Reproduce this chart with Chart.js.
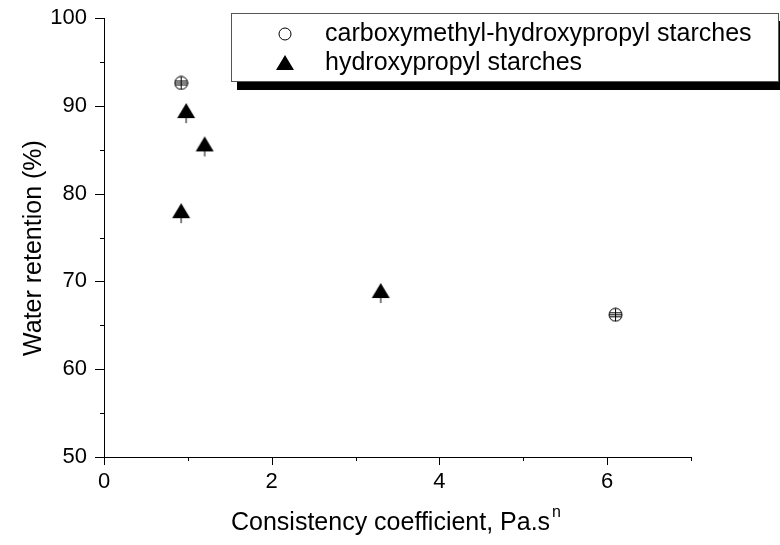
<!DOCTYPE html>
<html><head><meta charset="utf-8">
<script src="https://cdn.jsdelivr.net/npm/chart.js@4"></script>
<style>html,body{margin:0;padding:0;background:#fff}</style>
</head><body><canvas id="c" width="780" height="545"></canvas>
<script>
const seriesNames = ['carboxymethyl-hydroxypropyl starches', 'hydroxypropyl starches'];
const cmhpX = [0.92, 6.10];
const cmhpY = [92.6, 66.2];
const hpX = [0.98, 1.20, 0.92, 3.30];
const hpY = [89.4, 85.6, 78.0, 68.9];
const xMajorTicks = [0, 2, 4, 6];
const yMajorTicks = [50, 60, 70, 80, 90, 100];
const xTitle = 'Consistency coefficient, Pa.s';
const xTitleSup = 'n';
const yTitle = 'Water retention (%)';

const FONT = '"Liberation Sans", Arial, sans-serif';

function makeCrossCircle() {
  const c = document.createElement('canvas'); c.width = 15; c.height = 15;
  const g = c.getContext('2d');
  g.strokeStyle = '#000'; g.lineWidth = 1;
  g.beginPath(); g.arc(7.5, 7.5, 6.5, 0, Math.PI * 2); g.stroke();
  g.beginPath();
  g.moveTo(7.5, 1); g.lineTo(7.5, 14);
  g.moveTo(1, 7.5); g.lineTo(14, 7.5);
  g.moveTo(2, 5.5); g.lineTo(13, 5.5);
  g.moveTo(2, 9.5); g.lineTo(13, 9.5);
  g.stroke();
  return c;
}
function makeTriangle() {
  const c = document.createElement('canvas'); c.width = 20; c.height = 26;
  const g = c.getContext('2d');
  g.fillStyle = '#000';
  g.beginPath(); g.moveTo(10, 5); g.lineTo(19, 20); g.lineTo(1, 20); g.closePath(); g.fill();
  g.fillRect(9.5, 19, 1, 6);
  return c;
}

const toPts = (xs, ys) => xs.map((x, i) => ({ x: x, y: ys[i] }));

const decor = {
  id: 'decor',
  afterDraw(chart) {
    const ctx = chart.ctx;
    const xs = chart.scales.x, ys = chart.scales.y;
    const a = chart.chartArea;
    ctx.save();
    ctx.strokeStyle = '#000'; ctx.lineWidth = 1;
    ctx.beginPath();
    for (let v = xs.min; v <= xs.max; v++) {
      const px = Math.round(xs.getPixelForValue(v)) + 0.5;
      const len = xMajorTicks.includes(v) ? 8 : 4;
      ctx.moveTo(px, a.bottom); ctx.lineTo(px, a.bottom + len);
    }
    for (let v = ys.min; v <= ys.max; v += 5) {
      const py = Math.round(ys.getPixelForValue(v)) + 0.5;
      const len = yMajorTicks.includes(v) ? 9 : 4;
      ctx.moveTo(a.left, py); ctx.lineTo(a.left - len, py);
    }
    ctx.stroke();

    // axis titles
    ctx.fillStyle = '#000';
    ctx.font = '25px ' + FONT;
    ctx.textBaseline = 'alphabetic';
    const w1 = ctx.measureText(xTitle).width;
    ctx.font = '16px ' + FONT;
    const w2 = ctx.measureText(xTitleSup).width;
    const cx = 396, by = 530;
    const sx = cx - (w1 + w2 + 2) / 2;
    ctx.font = '25px ' + FONT;
    ctx.textAlign = 'left';
    ctx.fillText(xTitle, sx, by);
    ctx.font = '16px ' + FONT;
    ctx.fillText(xTitleSup, sx + w1 + 2, by - 13);

    ctx.save();
    ctx.translate(41, 248);
    ctx.rotate(-Math.PI / 2);
    ctx.font = '25px ' + FONT;
    ctx.textAlign = 'center';
    ctx.fillText(yTitle, 0, 0);
    ctx.restore();

    // legend
    ctx.fillStyle = '#000';
    ctx.fillRect(237, 21, 550, 69);
    ctx.fillStyle = '#fff';
    ctx.fillRect(231, 13, 548, 69);
    ctx.strokeStyle = '#555';
    ctx.strokeRect(231.5, 13.5, 547, 68);
    ctx.strokeStyle = '#000';
    ctx.beginPath(); ctx.arc(285, 34, 6, 0, Math.PI * 2); ctx.stroke();
    ctx.fillStyle = '#000';
    ctx.beginPath(); ctx.moveTo(285, 55); ctx.lineTo(294, 70); ctx.lineTo(276, 70); ctx.closePath(); ctx.fill();
    ctx.font = '25px ' + FONT;
    ctx.textAlign = 'left'; ctx.textBaseline = 'middle';
    ctx.fillText(seriesNames[0], 325, 34);
    ctx.fillText(seriesNames[1], 325, 63);
    ctx.restore();
  }
};

new Chart(document.getElementById('c'), {
  type: 'scatter',
  data: {
    datasets: [
      { label: seriesNames[0], data: toPts(cmhpX, cmhpY), pointStyle: makeCrossCircle(), pointRadius: 8 },
      { label: seriesNames[1], data: toPts(hpX, hpY), pointStyle: makeTriangle(), pointRadius: 10 }
    ]
  },
  options: {
    responsive: false, animation: false, devicePixelRatio: 1,
    layout: { padding: { top: 18, right: 89, left: 0, bottom: 0 } },
    plugins: { legend: { display: false }, tooltip: { enabled: false } },
    scales: {
      x: {
        type: 'linear', min: 0, max: 7,
        afterFit(s) { s.height = 88; s.paddingLeft = 0; s.paddingRight = 0; },
        grid: { drawOnChartArea: false, tickColor: 'transparent', tickLength: 8 },
        border: { display: true, color: '#000', width: 1 },
        ticks: { stepSize: 1, padding: 4, color: '#000', font: { family: FONT, size: 22 },
          callback: v => xMajorTicks.includes(v) ? String(v) : '' }
      },
      y: {
        type: 'linear', min: 50, max: 100,
        afterFit(s) { s.width = 104; s.paddingTop = 0; s.paddingBottom = 0; },
        grid: { drawOnChartArea: false, tickColor: 'transparent', tickLength: 8 },
        border: { display: true, color: '#000', width: 1 },
        ticks: { stepSize: 5, padding: 9, color: '#000', font: { family: FONT, size: 22 },
          callback: v => yMajorTicks.includes(v) ? String(v) : '' }
      }
    }
  },
  plugins: [decor]
});
</script>
</body></html>
